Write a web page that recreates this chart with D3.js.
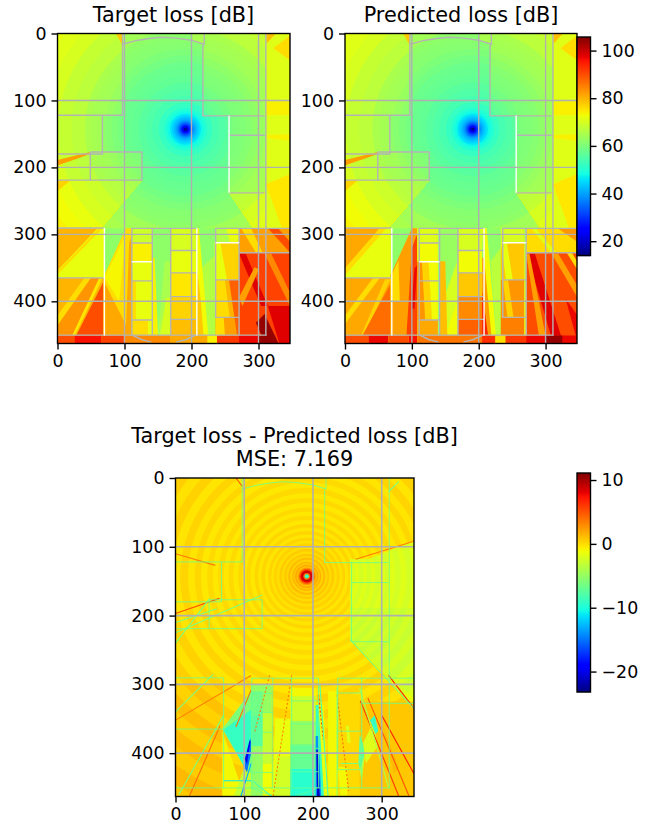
<!DOCTYPE html>
<html lang="en">
<head>
<meta charset="UTF-8">
<title>Target and predicted loss</title>
<script src="https://cdn.jsdelivr.net/npm/d3@7"></script>
<style>
  html, body { margin: 0; background: #fff; }
  svg { display: block; font-family: "DejaVu Sans", sans-serif; }
</style>
</head>
<body>
<div id="chart"></div>
<script>
// tick labels
const xTicks = [0, 100, 200, 300];
const yTicks = [0, 100, 200, 300, 400];
const lossBarTicks = [20, 40, 60, 80, 100];
const diffBarTicks = [10, 0, -10, -20];
const gridTicks = [100, 200, 300, 400];

// value ranges, map extent in map cells
const lossRange = [14, 105.7];
const diffRange = [-23.2, 11.1];
const mapWidth = 347;
const mapHeight = 463;
const txPoint = [191, 143];

// loss against distance from the transmitter (outer radius of each band, dB)
const lossRadii = [500, 400, 340, 300, 270, 250, 230, 210, 190, 170, 150, 140, 130, 120, 110, 100, 90, 80, 70, 60, 50, 40, 32, 27, 23, 20, 17, 14.5, 12, 10, 8, 6.5, 5, 3.5, 2];
const lossRadial = [74, 73, 72, 71, 70, 69, 68, 67, 65, 64, 62, 61.5, 61, 60, 59, 58, 57.5, 57, 56, 55, 54, 52, 50, 48, 46, 44, 42, 40, 37, 34, 31, 28, 24, 20, 15];

// difference rings
const diffRadii = [500, 442, 412, 384, 358, 334, 312, 292, 273, 255, 238, 223, 209, 196, 184, 173, 163, 154, 145, 137, 129, 121, 114, 107, 100, 94, 88, 82, 76, 71, 66, 61, 56, 52, 48, 44, 40, 36, 33, 30, 27, 24, 21, 19, 17, 15, 13, 11, 9, 7, 5, 3];
const diffRadial = [0.8, 0.3, 0.8, 0.2, 0.8, 0.1, 0.7, 0, 0.6, -0.1, 0.5, -0.2, 0.4, -0.3, 0.3, -0.3, 0.2, -0.4, 0.1, -0.4, 0.1, -0.4, 0.1, -0.4, 0.1, -0.4, 0.1, -0.4, 0.2, -0.3, 0.2, -0.3, 0.3, -0.2, 0.4, -0.1, 0.6, 0, 0.8, 0.2, 1.2, 0.4, 1.5, 0.6, 2, 1, 2.5, 5, 8, 9, 4, -9];

// walls, map cells
const walls = [
  [[97, 16], [120, 10], [140, 7], [156, 5.5], [175, 6.5], [200, 10], [219, 16]],
  [[219, 0], [219, 16], [217, 18], [217, 123], [309, 123]],
  [[97, 0], [97, 122], [0, 122]],
  [[67, 122], [67, 180], [0, 180]],
  [[49, 177], [126, 177], [126, 219], [0, 219]],
  [[49, 177], [49, 219]],
  [[256, 152], [309, 152]],
  [[256, 238], [309, 238]],
  [[311, 0], [311, 451]],
  [[0, 290.5], [69, 290.5]],
  [[0, 365], [69, 365]],
  [[0, 450.5], [312, 450.5]],
  [[111, 291], [208, 291]],
  [[111, 291], [111, 451]],
  [[141.5, 291], [141.5, 451]],
  [[169, 291], [169, 451]],
  [[111, 313], [141, 313]],
  [[111, 369.5], [141, 369.5]],
  [[111, 428], [141, 428]],
  [[169, 324], [208, 324]],
  [[169, 357.5], [208, 357.5]],
  [[169, 393], [208, 393]],
  [[169, 427], [208, 427]],
  [[236, 291], [347, 291]],
  [[236, 291], [236, 424], [271, 424]],
  [[271, 291], [271, 451]],
  [[236, 368], [271, 368]],
  [[271, 327.5], [347, 327.5]],
  [[111, 450], [125, 457], [140, 461]],
  [[177, 461], [192, 457], [207, 450]]
];
const whiteWalls = [
  [[256, 123], [256, 238]],
  [[70, 290.5], [70, 451]],
  [[111, 341], [141, 341]],
  [[208, 291], [208, 451]],
  [[236, 312.5], [271, 312.5]]
];

// areas shared by both loss maps: delta shifts the radial loss, value is a flat dB level
const upperZones = [
  { pts: [[0, 0], [97, 0], [97, 122], [0, 122]], delta: 3 },
  { pts: [[219, 0], [311, 0], [311, 123], [217, 123]], delta: 3 },
  { pts: [[87, 0], [97, 0], [97, 18]], value: 78 },
  { pts: [[201, 0], [219, 0], [219, 18], [201, 11]], value: 65 },
  { pts: [[0, 122], [67, 122], [67, 180], [0, 180]], delta: 3 },
  { pts: [[67, 122], [97, 122], [97, 177], [67, 177]], delta: 1 },
  { pts: [[0, 180], [126, 177], [126, 219], [0, 219]], delta: 3 },
  { pts: [[0, 189], [49, 177], [49, 180], [0, 197]], value: 82 },
  { pts: [[0, 219], [20, 219], [0, 236]], value: 77 },
  { pts: [[311, 0], [347, 0], [347, 291], [311, 291]], value: 71 },
  { pts: [[312, 0], [326, 0], [312, 15]], value: 79 },
  { pts: [[347, 3], [322, 22], [347, 40]], value: 76 },
  { pts: [[311, 102], [347, 100], [347, 122], [311, 122]], value: 74 },
  { pts: [[311, 152], [347, 150], [347, 160], [311, 156]], value: 74 },
  { pts: [[311, 225], [347, 210], [347, 291], [335, 291]], value: 75 },
  { pts: [[256, 123], [311, 123], [311, 238], [256, 238]], delta: 3 },
  { pts: [[20, 219], [126, 219], [65, 291], [0, 291], [0, 236]], delta: 5 },
  { pts: [[256, 238], [311, 238], [311, 291], [292, 291]], delta: 6 },
  { pts: [[70, 291], [102, 291], [70, 361]], value: 62 }
];

const targetZones = [
  { pts: [[0, 291], [70, 291], [70, 365], [0, 365]], value: 72 },
  { pts: [[0, 291], [60, 291], [0, 354]], value: 80 },
  { pts: [[62, 291], [67, 291], [0, 360], [0, 355]], value: 76 },
  { pts: [[0, 365], [70, 365], [70, 451], [0, 451]], value: 80 },
  { pts: [[40, 365], [50, 365], [0, 436], [0, 421]], value: 76 },
  { pts: [[50, 365], [62, 365], [22, 451], [0, 451], [0, 436]], value: 83 },
  { pts: [[62, 366], [67, 366], [26, 451], [22, 451]], value: 75 },
  { pts: [[68, 372], [68, 451], [28, 451]], value: 90 },
  { pts: [[70, 361], [102, 291], [111, 291], [111, 451], [70, 451]], value: 76 },
  { pts: [[70, 364], [87, 330], [102, 300], [92, 400]], value: 73.5 },
  { pts: [[70, 371], [110, 451], [70, 451]], value: 81 },
  { pts: [[107, 312], [111, 302], [111, 451], [102, 442]], value: 81 },
  { pts: [[111, 291], [141, 291], [141, 313], [111, 313]], value: 69 },
  { pts: [[111, 313], [141, 313], [141, 341], [111, 341]], value: 74 },
  { pts: [[111, 341], [141, 341], [141, 428], [111, 428]], value: 72 },
  { pts: [[111, 369], [117, 369], [117, 428], [111, 428]], value: 76 },
  { pts: [[111, 428], [141, 428], [141, 451], [111, 451]], value: 76 },
  { pts: [[135, 428], [141, 428], [141, 451], [135, 451]], value: 72 },
  { pts: [[141, 291], [169, 291], [169, 451], [141, 451]], value: 62 },
  { pts: [[160, 340], [169, 340], [169, 451], [150, 451]], value: 65 },
  { pts: [[162, 395], [169, 395], [169, 451], [153, 451]], value: 70 },
  { pts: [[141, 335], [145, 335], [150, 451], [141, 451]], value: 74 },
  { pts: [[169, 291], [208, 291], [208, 324], [169, 324]], value: 70 },
  { pts: [[169, 324], [208, 324], [208, 357], [169, 357]], value: 72 },
  { pts: [[169, 357], [208, 357], [208, 393], [169, 393]], value: 75 },
  { pts: [[169, 393], [208, 393], [208, 427], [169, 427]], value: 77 },
  { pts: [[169, 427], [208, 427], [208, 451], [169, 451]], value: 79 },
  { pts: [[208, 291], [236, 291], [236, 451], [208, 451]], value: 62 },
  { pts: [[215, 350], [236, 330], [236, 451], [222, 451]], value: 66 },
  { pts: [[208, 291], [211, 291], [225, 451], [212, 451], [208, 400]], value: 73 },
  { pts: [[208, 350], [214, 400], [218, 451], [208, 451]], value: 78 },
  { pts: [[236, 291], [271, 291], [271, 313], [236, 313]], value: 66 },
  { pts: [[252, 291], [271, 291], [271, 313], [258, 313]], value: 72 },
  { pts: [[236, 313], [271, 313], [271, 368], [236, 368]], value: 77 },
  { pts: [[234, 313], [243, 313], [253, 368], [236, 368]], value: 72 },
  { pts: [[236, 368], [271, 368], [271, 424], [236, 424]], value: 80 },
  { pts: [[236, 368], [250, 368], [257, 424], [236, 424]], value: 76 },
  { pts: [[236, 424], [271, 424], [271, 451], [236, 451]], value: 82 },
  { pts: [[236, 424], [248, 424], [250, 451], [236, 451]], value: 76 },
  { pts: [[256, 368], [271, 368], [271, 451], [268, 451]], value: 88 },
  { pts: [[271, 291], [347, 291], [347, 327], [271, 327]], value: 82 },
  { pts: [[274, 291], [289, 291], [306, 327], [296, 327]], value: 76 },
  { pts: [[314, 291], [329, 291], [347, 311], [347, 327]], value: 90 },
  { pts: [[271, 327], [347, 327], [347, 463], [271, 463]], value: 91 },
  { pts: [[271, 329], [281, 329], [314, 407], [304, 407]], value: 98 },
  { pts: [[271, 394], [294, 349], [301, 352], [276, 407]], value: 82 },
  { pts: [[309, 329], [319, 329], [347, 387], [347, 407]], value: 84 },
  { pts: [[314, 407], [347, 407], [347, 463], [331, 463]], value: 98 },
  { pts: [[296, 432], [309, 419], [330, 463], [310, 463]], value: 104 },
  { pts: [[0, 451], [25, 451], [25, 463], [0, 463]], value: 90 },
  { pts: [[25, 451], [65, 451], [65, 463], [25, 463]], value: 96 },
  { pts: [[65, 451], [100, 451], [100, 463], [65, 463]], value: 91 },
  { pts: [[100, 451], [169, 451], [169, 463], [100, 463]], value: 84 },
  { pts: [[169, 451], [224, 451], [224, 463], [169, 463]], value: 81 },
  { pts: [[224, 451], [238, 451], [238, 463], [224, 463]], value: 74 },
  { pts: [[238, 451], [271, 451], [271, 463], [238, 463]], value: 92 },
  { pts: [[271, 451], [300, 451], [300, 463], [271, 463]], value: 97 },
  { pts: [[300, 451], [325, 451], [325, 463], [300, 463]], value: 104 }
];

const predZones = [
  { pts: [[0, 291], [68, 291], [68, 365], [0, 365]], value: 72 },
  { pts: [[0, 291], [52, 291], [0, 351]], value: 81 },
  { pts: [[52, 291], [62, 291], [0, 361], [0, 351]], value: 76 },
  { pts: [[0, 365], [68, 365], [68, 451], [0, 451]], value: 81 },
  { pts: [[42, 365], [52, 365], [0, 434], [0, 421]], value: 76 },
  { pts: [[60, 367], [68, 367], [28, 451], [24, 451]], value: 77 },
  { pts: [[68, 374], [68, 451], [26, 451]], value: 87 },
  { pts: [[68, 361], [100, 291], [108, 291], [108, 451], [68, 451]], value: 82 },
  { pts: [[68, 364], [80, 339], [82, 401], [68, 401]], value: 76 },
  { pts: [[100, 320], [108, 300], [108, 451], [92, 451]], value: 91 },
  { pts: [[104, 351], [108, 346], [104, 411], [99, 411]], value: 97 },
  { pts: [[108, 291], [139, 291], [139, 313], [108, 313]], value: 71 },
  { pts: [[108, 313], [139, 313], [139, 341], [108, 341]], value: 73 },
  { pts: [[108, 341], [139, 341], [139, 428], [108, 428]], value: 77 },
  { pts: [[125, 341], [139, 341], [139, 428], [130, 428]], value: 73 },
  { pts: [[108, 341], [115, 341], [120, 428], [108, 428]], value: 83 },
  { pts: [[108, 428], [139, 428], [139, 451], [108, 451]], value: 81 },
  { pts: [[139, 291], [168, 291], [168, 451], [139, 451]], value: 63 },
  { pts: [[168, 340], [168, 451], [146, 451], [150, 390]], value: 70 },
  { pts: [[168, 400], [168, 451], [150, 451]], value: 73 },
  { pts: [[142, 340], [150, 340], [153, 451], [141, 451]], value: 79 },
  { pts: [[169, 291], [205, 291], [205, 324], [169, 324]], value: 70 },
  { pts: [[169, 324], [205, 324], [205, 357], [169, 357]], value: 73 },
  { pts: [[169, 357], [205, 357], [205, 393], [169, 393]], value: 78 },
  { pts: [[169, 393], [205, 393], [205, 427], [169, 427]], value: 84 },
  { pts: [[169, 427], [205, 427], [205, 451], [169, 451]], value: 88 },
  { pts: [[205, 291], [233, 291], [233, 451], [205, 451]], value: 62 },
  { pts: [[218, 340], [233, 320], [233, 451], [226, 451]], value: 67 },
  { pts: [[205, 291], [212, 291], [226, 451], [212, 451]], value: 73 },
  { pts: [[205, 335], [208, 335], [219, 451], [205, 451]], value: 82 },
  { pts: [[205, 385], [214, 451], [205, 451]], value: 94 },
  { pts: [[233, 291], [268, 291], [268, 313], [233, 313]], value: 70 },
  { pts: [[233, 313], [268, 313], [268, 368], [233, 368]], value: 78 },
  { pts: [[233, 313], [242, 313], [251, 368], [241, 368]], value: 72 },
  { pts: [[233, 368], [268, 368], [268, 424], [233, 424]], value: 83 },
  { pts: [[236, 368], [244, 368], [252, 424], [243, 424]], value: 77 },
  { pts: [[233, 424], [268, 424], [268, 451], [233, 451]], value: 85 },
  { pts: [[271, 291], [347, 291], [347, 327], [271, 327]], value: 76 },
  { pts: [[279, 291], [285, 291], [316, 327], [308, 327]], value: 71 },
  { pts: [[318, 291], [347, 291], [347, 311]], value: 83 },
  { pts: [[271, 327], [347, 327], [347, 463], [271, 463]], value: 90 },
  { pts: [[272, 329], [284, 329], [323, 451], [308, 451]], value: 98 },
  { pts: [[271, 329], [276, 329], [300, 451], [290, 451]], value: 82 },
  { pts: [[309, 329], [319, 329], [347, 376], [347, 393]], value: 82 },
  { pts: [[312, 296], [320, 296], [347, 340], [347, 352]], value: 76 },
  { pts: [[330, 396], [347, 420], [347, 451], [345, 451]], value: 97 },
  { pts: [[0, 451], [35, 451], [35, 463], [0, 463]], value: 90 },
  { pts: [[35, 451], [65, 451], [65, 463], [35, 463]], value: 97 },
  { pts: [[65, 451], [95, 451], [95, 463], [65, 463]], value: 90 },
  { pts: [[95, 451], [108, 451], [108, 463], [95, 463]], value: 96 },
  { pts: [[108, 451], [205, 451], [205, 463], [108, 463]], value: 86 },
  { pts: [[205, 451], [225, 451], [225, 463], [205, 463]], value: 93 },
  { pts: [[225, 451], [240, 451], [240, 463], [225, 463]], value: 76 },
  { pts: [[240, 451], [271, 451], [271, 463], [240, 463]], value: 92 },
  { pts: [[271, 451], [347, 451], [347, 463], [271, 463]], value: 97 },
  { pts: [[300, 451], [325, 451], [325, 463], [300, 463]], value: 104 }
];

const diffZones = [
  { pts: [[254, 118], [282, 118], [347, 92], [347, 335], [307, 288], [254, 235]], delta: -2 },
  { pts: [[254, 190], [347, 190], [347, 320], [254, 235]], delta: -2.6 },
  { pts: [[0, 300], [70, 300], [70, 463], [0, 463]], delta: 0.5 },
  { pts: [[68, 367], [100, 463], [68, 463]], value: -1 },
  { pts: [[68, 365], [110, 310], [110, 430], [100, 420]], value: -6 },
  { pts: [[70, 366], [110, 337], [110, 395], [99, 418]], value: -9 },
  { pts: [[100, 420], [110, 430], [110, 463], [85, 463]], value: -3 },
  { pts: [[99, 418], [110, 377], [110, 400], [104, 428]], value: -15 },
  { pts: [[101, 408], [108, 380], [109, 384], [104, 416]], value: -20 },
  { pts: [[110, 300], [140, 300], [140, 463], [110, 463]], value: -5 },
  { pts: [[110, 310], [127, 310], [127, 345], [110, 345]], value: -6.5 },
  { pts: [[110, 345], [127, 345], [127, 390], [110, 390]], value: -7.5 },
  { pts: [[110, 390], [127, 390], [127, 463], [110, 463]], value: -5 },
  { pts: [[127, 340], [140, 340], [140, 415], [127, 415]], value: -3 },
  { pts: [[127, 415], [140, 415], [140, 463], [127, 463]], value: -1.2 },
  { pts: [[145, 350], [167, 350], [167, 463], [140, 463]], value: -1.5 },
  { pts: [[148, 405], [167, 405], [167, 463], [142, 463]], value: -2.4 },
  { pts: [[167, 305], [205, 305], [205, 317], [167, 317]], value: -1 },
  { pts: [[167, 317], [205, 317], [205, 353], [167, 353]], value: -2.6 },
  { pts: [[167, 353], [205, 353], [205, 387], [167, 387]], value: -5 },
  { pts: [[167, 387], [205, 387], [205, 423], [167, 423]], value: -7 },
  { pts: [[167, 423], [205, 423], [205, 463], [167, 463]], value: -9.5 },
  { pts: [[204, 330], [215, 330], [222, 463], [204, 463]], value: -1.5 },
  { pts: [[204, 330], [208, 330], [216, 463], [204, 463]], value: -9 },
  { pts: [[204, 375], [208, 375], [212, 463], [204, 463]], value: -14 },
  { pts: [[205, 395], [207, 395], [210, 463], [206, 463]], value: -21 },
  { pts: [[222, 310], [236, 310], [236, 463], [222, 463]], value: -1 },
  { pts: [[236, 315], [268, 315], [268, 463], [236, 463]], value: 0.1 },
  { pts: [[248, 360], [252, 360], [255, 385], [250, 385]], value: -2 },
  { pts: [[236, 420], [250, 420], [250, 463], [240, 463]], value: -1 },
  { pts: [[268, 325], [347, 325], [347, 463], [268, 463]], value: 0.8 },
  { pts: [[268, 373], [276, 395], [270, 433], [266, 415]], value: -7 },
  { pts: [[268, 425], [276, 400], [271, 440]], value: -3 },
  { pts: [[273, 385], [288, 355], [294, 390], [277, 415]], value: -2 },
  { pts: [[283, 352], [290, 345], [295, 368], [291, 372]], value: -9 },
  { pts: [[300, 355], [309, 380], [325, 420], [318, 430]], value: 1.3 }
];

// one pixel wide streaks in the difference map
const diffRays = [
  { pts: [[0, 352], [110, 287]], value: 3.5, dash: false },
  { pts: [[142, 462], [169, 287]], value: 3.5, dash: true },
  { pts: [[110, 308], [88, 362]], value: 4, dash: false },
  { pts: [[137, 287], [115, 370]], value: 3.5, dash: true },
  { pts: [[0, 197], [64, 175]], value: 5, dash: false },
  { pts: [[0, 110], [58, 127]], value: 3.5, dash: false },
  { pts: [[262, 118], [347, 92]], value: 3.5, dash: false },
  { pts: [[88, 0], [97, 12]], value: 5, dash: false },
  { pts: [[208, 315], [215, 380]], value: 6, dash: true },
  { pts: [[235, 315], [252, 455]], value: 4, dash: true },
  { pts: [[269, 324], [325, 463]], value: 6, dash: false },
  { pts: [[280, 320], [340, 463]], value: 5, dash: false },
  { pts: [[310, 287], [347, 335]], value: 7, dash: false },
  { pts: [[300, 345], [347, 430]], value: 7, dash: false },
  { pts: [[20, 463], [65, 360]], value: 4, dash: false },
  { pts: [[0, 240], [50, 175]], value: -6, dash: false },
  { pts: [[0, 210], [60, 190]], value: -6, dash: false },
  { pts: [[0, 225], [126, 170]], value: -6, dash: false },
  { pts: [[310, 20], [325, 5]], value: -6, dash: false },
  { pts: [[254, 235], [347, 335]], value: -6, dash: false },
  { pts: [[0, 340], [55, 285]], value: -6, dash: false },
  { pts: [[5, 460], [70, 345]], value: -6, dash: false },
  { pts: [[70, 440], [110, 440]], value: -11, dash: false },
  { pts: [[95, 463], [110, 415]], value: -13, dash: false },
  { pts: [[210, 300], [222, 463]], value: -8, dash: false },
  { pts: [[112, 440], [140, 463]], value: -8, dash: false },
  { pts: [[235, 305], [235, 463]], value: -5, dash: false },
  { pts: [[268, 305], [310, 450]], value: -4, dash: false },
  { pts: [[240, 415], [268, 415]], value: -6, dash: false }
];

const jetR = d3.scaleLinear().domain([0, 0.35, 0.66, 0.89, 1]).range([0, 0, 1, 1, 0.5]).clamp(true);
const jetG = d3.scaleLinear().domain([0, 0.125, 0.375, 0.64, 0.91, 1]).range([0, 0, 1, 1, 0, 0]).clamp(true);
const jetB = d3.scaleLinear().domain([0, 0.11, 0.34, 0.65, 1]).range([0.5, 1, 1, 0, 0]).clamp(true);
const jet = t => d3.rgb(jetR(t) * 255, jetG(t) * 255, jetB(t) * 255).formatHex();

const tickFont = 17.4;
const lineW = 1.39;
const svg = d3.select("#chart").append("svg").attr("width", 651).attr("height", 823);
let clipCount = 0;

function drawMap(box, radii, radial, zones, colorRange, rays, wallColor) {
  const x = d3.scaleLinear().domain([0, mapWidth]).range([box.left, box.right]);
  const y = d3.scaleLinear().domain([0, mapHeight]).range([box.top, box.bottom]);
  const colorT = d3.scaleLinear().domain(colorRange).range([0, 1]).clamp(true);
  const color = v => jet(colorT(v));
  const line = d3.line().x(d => x(d[0])).y(d => y(d[1]));
  const polyPoints = pts => pts.map(p => [x(p[0]), y(p[1])].join(",")).join(" ");

  const plotClip = "clip" + (clipCount++);
  svg.append("clipPath").attr("id", plotClip).append("rect")
    .attr("x", box.left).attr("y", box.top)
    .attr("width", box.right - box.left).attr("height", box.bottom - box.top);
  const g = svg.append("g").attr("clip-path", `url(#${plotClip})`);

  function rings(parent, delta) {
    parent.selectAll("ellipse").data(radii).join("ellipse")
      .attr("cx", x(txPoint[0])).attr("cy", y(txPoint[1]))
      .attr("rx", d => x(d) - x(0)).attr("ry", d => y(d) - y(0))
      .attr("fill", (d, i) => color(radial[i] + delta));
  }
  rings(g.append("g"), 0);

  zones.forEach(z => {
    if (z.value !== undefined) {
      g.append("polygon").attr("points", polyPoints(z.pts)).attr("fill", color(z.value));
    } else {
      const id = "clip" + (clipCount++);
      svg.append("clipPath").attr("id", id).append("polygon").attr("points", polyPoints(z.pts));
      rings(g.append("g").attr("clip-path", `url(#${id})`), z.delta);
    }
  });

  if (rays) {
    g.selectAll("path.ray").data(rays).join("path").attr("class", "ray")
      .attr("d", d => line(d.pts)).attr("fill", "none")
      .attr("stroke", d => color(d.value)).attr("stroke-width", 1.1)
      .attr("stroke-dasharray", d => d.dash ? "2 2" : null);
  }

  g.selectAll("path.wall").data(walls).join("path").attr("class", "wall")
    .attr("d", line).attr("fill", "none")
    .attr("stroke", wallColor.grey).attr("stroke-width", wallColor.width);
  g.selectAll("path.whitewall").data(whiteWalls).join("path").attr("class", "whitewall")
    .attr("d", line).attr("fill", "none")
    .attr("stroke", wallColor.white).attr("stroke-width", wallColor.width);

  // grid
  g.selectAll("line.gx").data(xTicks.slice(1)).join("line").attr("class", "gx")
    .attr("x1", d => x(d)).attr("x2", d => x(d)).attr("y1", box.top).attr("y2", box.bottom)
    .attr("stroke", "#b0b0b0").attr("stroke-width", box.grid);
  g.selectAll("line.gy").data(gridTicks).join("line").attr("class", "gy")
    .attr("y1", d => y(d)).attr("y2", d => y(d)).attr("x1", box.left).attr("x2", box.right)
    .attr("stroke", "#b0b0b0").attr("stroke-width", box.grid);

  // frame and axes
  svg.append("rect").attr("x", box.left).attr("y", box.top)
    .attr("width", box.right - box.left).attr("height", box.bottom - box.top)
    .attr("fill", "none").attr("stroke", "#000").attr("stroke-width", lineW);
  const xAxis = svg.append("g").attr("transform", `translate(0,${box.bottom})`)
    .call(d3.axisBottom(x).tickValues(xTicks).tickSize(6).tickPadding(5));
  const yAxis = svg.append("g").attr("transform", `translate(${box.left},0)`)
    .call(d3.axisLeft(y).tickValues(yTicks).tickSize(6).tickPadding(5));
  [xAxis, yAxis].forEach(a => {
    a.select(".domain").remove();
    a.selectAll("line").attr("stroke", "#000").attr("stroke-width", lineW);
    a.selectAll("text").attr("font-size", tickFont).attr("font-family", "DejaVu Sans").attr("fill", "#000");
  });
}

function drawColorBar(bar, range, ticks) {
  const scale = d3.scaleLinear().domain(range).range([bar.bottom, bar.top]);
  const colorT = d3.scaleLinear().domain(range).range([0, 1]);
  svg.append("g").selectAll("rect").data(d3.range(bar.top, bar.bottom)).join("rect")
    .attr("x", bar.left).attr("y", d => d)
    .attr("width", bar.right - bar.left).attr("height", 1.2)
    .attr("fill", d => jet(colorT(scale.invert(d + 0.5))));
  svg.append("rect").attr("x", bar.left).attr("y", bar.top)
    .attr("width", bar.right - bar.left).attr("height", bar.bottom - bar.top)
    .attr("fill", "none").attr("stroke", "#000").attr("stroke-width", lineW);
  const axis = svg.append("g").attr("transform", `translate(${bar.right},0)`)
    .call(d3.axisRight(scale).tickValues(ticks).tickSize(6).tickPadding(5));
  axis.select(".domain").remove();
  axis.selectAll("line").attr("stroke", "#000").attr("stroke-width", lineW);
  axis.selectAll("text").attr("font-size", tickFont).attr("font-family", "DejaVu Sans").attr("fill", "#000");
}

function title(text, cx, baseline) {
  svg.append("text").attr("x", cx).attr("y", baseline)
    .attr("text-anchor", "middle").attr("font-size", 20.8).attr("fill", "#000").text(text);
}

const greyWalls = { grey: "#b4b4b4", white: "#ffffff", width: 1.4 };
const diffWalls = { grey: jet(0.47), white: jet(0.47), width: 0.8 };

drawMap({ left: 57.5, right: 290, top: 33.5, bottom: 343.5, grid: 1.39 }, lossRadii, lossRadial, upperZones.concat(targetZones), lossRange, null, greyWalls);
drawMap({ left: 345, right: 577, top: 33.5, bottom: 343.5, grid: 1.39 }, lossRadii, lossRadial, upperZones.concat(predZones), lossRange, null, greyWalls);
drawMap({ left: 175.5, right: 414, top: 478, bottom: 796.5, grid: 1.6 }, diffRadii, diffRadial, diffZones, diffRange, diffRays, diffWalls);

drawColorBar({ left: 577, right: 590.5, top: 37, bottom: 255.5 }, lossRange, lossBarTicks);
drawColorBar({ left: 577, right: 590.5, top: 473, bottom: 692 }, diffRange, diffBarTicks);

title("Target loss [dB]", 173.5, 22);
title("Predicted loss [dB]", 461, 22);
title("Target loss - Predicted loss [dB]", 294.5, 443);
title("MSE: 7.169", 294.5, 466);
</script>
</body>
</html>
